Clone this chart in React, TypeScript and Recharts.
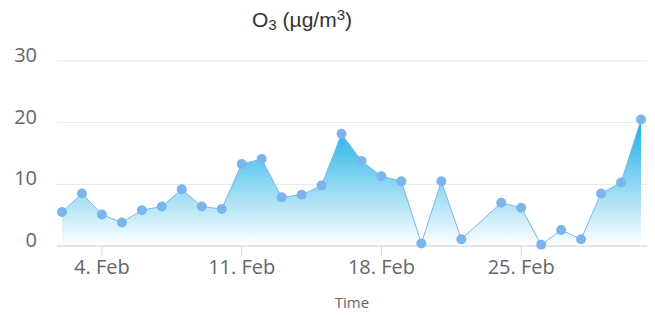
import { AreaChart, Area, XAxis, YAxis, CartesianGrid, Label } from "recharts";

const dates = [
  "2019-02-02", "2019-02-03", "2019-02-04", "2019-02-05", "2019-02-06",
  "2019-02-07", "2019-02-08", "2019-02-09", "2019-02-10", "2019-02-11",
  "2019-02-12", "2019-02-13", "2019-02-14", "2019-02-15", "2019-02-16",
  "2019-02-17", "2019-02-18", "2019-02-19", "2019-02-20", "2019-02-21",
  "2019-02-22", "2019-02-24", "2019-02-25", "2019-02-26", "2019-02-27",
  "2019-02-28", "2019-03-01", "2019-03-02", "2019-03-03",
];
const o3 = [
  5.5, 8.5, 5.1, 3.8, 5.8, 6.4, 9.2, 6.4, 6.0, 13.3,
  14.1, 7.9, 8.3, 9.8, 18.2, 13.8, 11.3, 10.5, 0.4, 10.5,
  1.1, 7.0, 6.2, 0.2, 2.6, 1.1, 8.5, 10.3, 20.5,
];
const xTickDates = ["2019-02-04", "2019-02-11", "2019-02-18", "2019-02-25"];
const yTicks = [0, 10, 20, 30];
const months = ["Jan", "Feb", "Mar", "Apr", "May", "Jun", "Jul", "Aug", "Sep", "Oct", "Nov", "Dec"];

const ts = (d: string) => Date.parse(d + "T00:00:00Z");

const data = dates.map((d, i) => ({ t: ts(d), v: o3[i] }));
const xTicks = xTickDates.map(ts);

const AXIS = "#ccd6eb";
const LINE = "#7cb5ec";
const FONT = "'Open Sans', sans-serif";

function fmtDate(t: number) {
  const d = new Date(t);
  return `${d.getUTCDate()}. ${months[d.getUTCMonth()]}`;
}

// eslint-disable-next-line @typescript-eslint/no-explicit-any
const XTick = (props: any) => {
  const { x, y, payload } = props;
  return (
    <text x={x} y={y + 16} textAnchor="middle" fontSize={20} fill="#666" style={{ fontFamily: FONT }}>
      {fmtDate(payload.value)}
    </text>
  );
};

// eslint-disable-next-line @typescript-eslint/no-explicit-any
const YTick = (props: any) => {
  const { y, payload } = props;
  return (
    <text x={37} y={y + 1} textAnchor="end" fontSize={20} fill="#666" style={{ fontFamily: FONT }}>
      {payload.value}
    </text>
  );
};

export default function App() {
  return (
    <div style={{ position: "absolute", left: 0, top: 0, width: 655, height: 316, background: "#fff" }}>
      <div
        style={{
          position: "absolute",
          left: 0,
          width: 604,
          top: 8,
          textAlign: "center",
          fontFamily: "'Liberation Sans', Arial, sans-serif",
          fontSize: 21,
          color: "#333",
          lineHeight: "24px",
        }}
      >
        O<sub style={{ fontSize: 15, verticalAlign: "-3px", lineHeight: 0 }}>3</sub> (µg/m
        <sup style={{ fontSize: 15, verticalAlign: "7px", lineHeight: 0 }}>3</sup>)
      </div>
      <AreaChart width={655} height={316} data={data} margin={{ top: 61, right: 8, bottom: 0, left: 0 }}>
        <defs>
          <linearGradient id="o3fill" x1="0" y1="0" x2="0" y2="1">
            <stop offset="0%" stopColor="#16ade5" stopOpacity={1} />
            <stop offset="100%" stopColor="#ffffff" stopOpacity={1} />
          </linearGradient>
        </defs>
        <CartesianGrid vertical={false} stroke="#e6e6e6" />
        <XAxis
          dataKey="t"
          type="number"
          domain={[ts("2019-02-02"), ts("2019-03-03")]}
          ticks={xTicks}
          padding={{ left: 5, right: 6 }}
          height={70}
          stroke={AXIS}
          tickLine={{ stroke: AXIS }}
          tickSize={10}
          tick={<XTick />}
          interval={0}
        >
          <Label
            content={(p: any) => {
              const vb = p.viewBox;
              return (
                <text x={352} y={vb.y + 62} textAnchor="middle" fontSize={15} fill="#666" style={{ fontFamily: FONT }}>
                  Time
                </text>
              );
            }}
          />
        </XAxis>
        <YAxis
          domain={[0, 30]}
          ticks={yTicks}
          width={57}
          axisLine={false}
          tickLine={false}
          tick={<YTick />}
          interval={0}
        />
        <Area
          type="linear"
          dataKey="v"
          stroke={LINE}
          strokeWidth={1}
          fill="url(#o3fill)"
          fillOpacity={1}
          dot={{ r: 5, fill: LINE, stroke: "none", fillOpacity: 1 }}
          activeDot={false}
          isAnimationActive={false}
        />
      </AreaChart>
    </div>
  );
}
